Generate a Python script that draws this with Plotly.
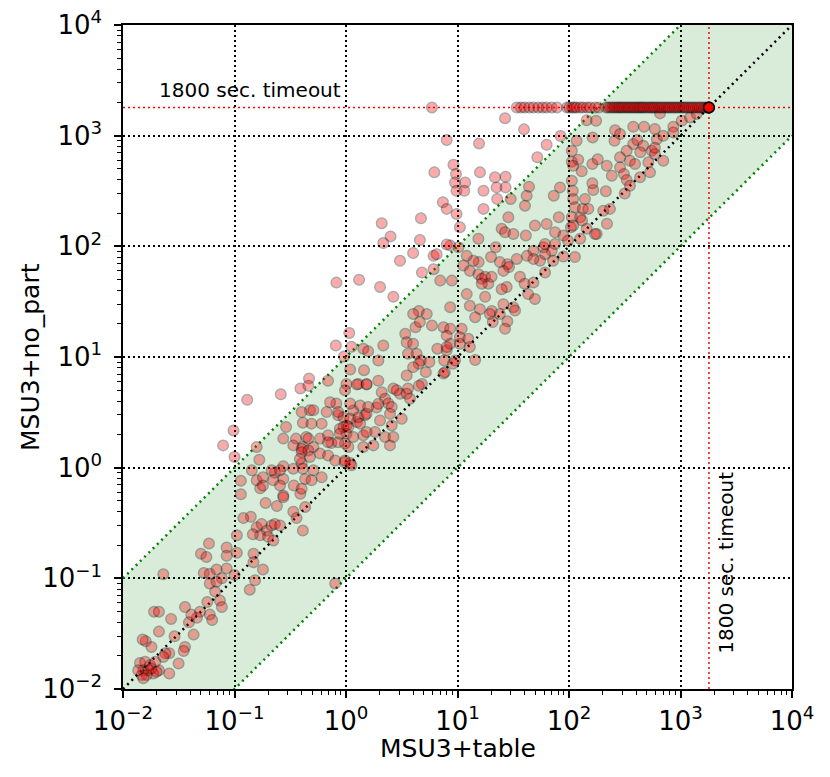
import math
import plotly.graph_objects as go

# Runtimes in seconds: (MSU3+table, MSU3+no_part)
pts_fast = [
    (0.10, 1.25), (0.167, 1.18), (0.143, 0.946), (0.158, 0.77), (0.18, 0.82), (0.17, 0.65),
    (0.114, 0.76), (0.114, 0.575), (0.23, 0.90), (0.274, 1.03), (0.337, 0.98), (0.40, 1.09),
    (0.274, 0.79), (0.34, 0.69), (0.274, 0.56), (0.19, 0.48), (0.24, 0.45), (0.43, 0.79),
    (0.49, 0.77), (0.39, 0.58), (0.43, 0.44), (0.337, 0.40), (0.36, 0.35), (0.41, 0.27),
    (0.158, 0.29), (0.175, 0.31), (0.195, 0.27), (0.215, 0.30), (0.23, 0.31), (0.17, 0.245),
    (0.20, 0.237), (0.223, 0.22), (0.146, 0.25), (0.14, 0.36), (0.12, 0.35), (0.105, 0.245),
    (0.105, 0.17), (0.085, 0.19), (0.085, 0.16), (0.148, 0.167), (0.148, 0.14), (0.18, 0.12),
    (0.137, 0.079), (0.153, 0.096), (0.10, 0.107), (0.085, 0.123), (0.077, 0.10), (0.059, 0.206),
    (0.05, 0.167), (0.056, 0.156), (0.053, 0.112), (0.06, 0.11), (0.069, 0.12), (0.06, 0.09),
    (0.069, 0.093), (0.067, 0.076), (0.074, 0.063), (0.077, 0.055), (0.023, 0.109), (0.057, 0.061),
    (0.049, 0.05), (0.046, 0.044), (0.041, 0.047), (0.036, 0.055), (0.039, 0.04), (0.06, 0.047),
    (0.063, 0.042), (0.043, 0.031), (0.029, 0.03), (0.036, 0.024), (0.035, 0.022), (0.0315, 0.017),
    (0.026, 0.021), (0.024, 0.021), (0.019, 0.05), (0.021, 0.05), (0.021, 0.033), (0.027, 0.043),
    (0.016, 0.027), (0.015, 0.028), (0.018, 0.024), (0.026, 0.0138), (0.021, 0.0148),
    (0.0142, 0.0172), (0.0158, 0.0176), (0.0175, 0.0164), (0.0152, 0.0148), (0.0169, 0.0148),
    (0.0187, 0.0138), (0.0147, 0.0134), (0.0163, 0.0134), (0.0137, 0.0148), (0.018, 0.0153),
    (0.020, 0.0143), (0.0152, 0.0125), (0.023, 0.0195), (0.0195, 0.0176),
    (1.09, 1.1), (0.97, 1.12), (0.8, 0.09),
    (0.215, 0.946), (0.256, 0.946), (0.41, 0.98), (0.51, 0.946), (0.18, 0.69), (0.223, 0.77),
    (0.256, 0.69), (0.40, 0.646), (0.605, 0.82), (0.274, 0.54), (0.256, 0.30),
]

pts_mid = [
    (0.079, 1.59), (0.098, 2.17), (0.13, 4.1), (0.26, 4.6), (0.39, 5.2), (0.466, 6.4),
    (0.46, 5.5), (0.69, 6.1), (0.82, 47), (1.31, 50), (2.02, 43), (2.66, 35), (2.09, 162),
    (2.51, 123), (2.16, 107), (1.07, 16.5), (0.81, 12.7), (1.12, 12.4), (0.96, 10.1),
    (1.43, 11.9), (1.58, 11.3), (2.16, 12.7), (1.09, 7.7), (1.45, 7.6), (1.95, 6.1),
    (1.01, 5.7), (1.29, 5.7), (1.53, 5.7), (0.98, 5.0), (0.475, 3.3), (0.51, 3.3),
    (0.41, 2.55), (0.29, 2.33), (0.274, 1.83), (0.356, 1.83), (0.44, 1.89), (0.585, 1.83),
    (0.69, 1.96), (0.74, 1.67), (0.51, 1.54), (0.41, 1.54), (0.67, 3.18), (0.82, 3.8),
    (0.85, 2.97), (0.95, 2.86), (0.88, 2.25), (1.01, 2.41), (1.16, 3.29), (1.34, 3.65),
    (1.48, 2.97), (1.25, 2.58), (1.01, 2.03), (1.16, 1.89), (1.43, 1.96), (1.43, 1.54),
    (1.05, 1.54), (1.76, 1.59), (2.09, 4.8), (2.24, 4.2), (2.4, 3.8), (1.88, 3.5),
    (2.66, 5.2), (2.57, 3.53), (2.48, 3.07), (2.02, 2.67), (2.57, 2.41), (1.82, 2.1),
    (2.24, 1.89), (1.53, 2.1), (2.66, 1.89), (2.48, 1.59), (0.158, 1.54), (0.98, 1.65),
    (1.95, 9.3), (3.6, 10.7), (4.3, 10.7), (4.7, 9.3), (5.6, 9.0), (4.5, 8.7), (5.2, 7.3),
    (4.0, 8.1), (3.5, 6.8), (8.0, 11.5), (7.6, 9.3), (9.1, 8.7), (14.4, 9.4), (7.5, 7.1),
    (4.8, 5.7), (4.5, 5.5), (3.6, 5.2), (3.05, 4.65), (3.5, 4.65), (3.75, 4.2), (3.16, 2.77),
    (1.25, 5.65), (1.53, 5.65), (2.85, 5.0), (0.72, 3.9), (1.09, 3.8), (1.58, 3.53),
    (1.95, 3.78), (0.85, 3.18), (0.40, 3.18), (0.49, 2.5), (0.605, 2.5), (0.337, 1.59),
    (0.40, 1.48), (0.46, 1.83), (0.69, 1.7), (0.85, 1.7), (0.40, 1.38), (0.46, 1.43),
    (0.386, 1.2), (0.475, 1.25), (0.585, 1.34), (0.69, 1.29), (0.8, 1.16), (1.09, 2.77),
    (1.29, 2.86), (1.34, 2.5), (1.53, 3.07), (0.95, 2.33), (1.05, 2.33), (0.88, 2.03),
    (0.98, 1.16), (1.12, 1.05),
]

pts_slow = [
    (26.7, 1440), (39.5, 1140), (8.0, 912), (15.6, 851), (63, 828), (84, 991), (52, 637),
    (106, 731), (117, 900), (144, 1380), (175, 1364), (163, 964), (106, 582), (121, 607),
    (109, 535), (130, 476), (162, 554), (181, 611), (218, 535), (259, 1122), (287, 1033),
    (256, 900), (377, 1203), (471, 1203), (589, 1148), (377, 840), (410, 913), (329, 731),
    (464, 811), (552, 731), (613, 930), (287, 637), (352, 594), (287, 517), (391, 554),
    (515, 574), (589, 682), (214, 314), (165, 323), (162, 371), (242, 435), (311, 450),
    (329, 398), (352, 353), (434, 420), (533, 466), (106, 392), (108, 318), (109, 268),
    (113, 225), (106, 183), (126, 183), (133, 218), (149, 218), (139, 268), (203, 210),
    (233, 218), (177, 129), (144, 144), (126, 117), (89, 125), (75, 134), (104, 149),
    (98, 113), (81, 183), (113, 80), (89, 81), (70, 91), (59, 98), (55, 74), (61, 85),
    (48, 91), (42, 82), (34, 77), (28, 69), (29, 65), (24, 72), (20, 80), (15.5, 72),
    (13.9, 74), (12.1, 82), (11.3, 67), (12.9, 60), (15.4, 56), (16.5, 51), (17.7, 53),
    (18.9, 46), (16.5, 46), (10.2, 98), (8.6, 102), (8.0, 104), (22, 98), (15.4, 117),
    (10.5, 149), (9.8, 196), (9.2, 547), (9.7, 450), (9.5, 378), (11.7, 378), (9.8, 318),
    (11.5, 318), (6.2, 466), (7.4, 250), (8.0, 218), (4.7, 179), (15.9, 466), (17.1, 318),
    (21.7, 420), (27, 426), (22.4, 341), (22.7, 268), (27, 341), (17.1, 218), (43.8, 346),
    (41.7, 287), (40.3, 233), (30, 268), (28.6, 183), (24.9, 144), (26.7, 134), (31.7, 129),
    (41, 125), (49.5, 154), (63, 159), (73, 287), (83, 341), (6.1, 82), (6.5, 85), (4.8, 58),
    (6.1, 62), (7.0, 49), (8.9, 49), (4.6, 114), (4.0, 87), (3.05, 74), (12.1, 37),
    (17.7, 35), (20.3, 26), (25.8, 30), (24, 24.5), (31.7, 28.2), (32.8, 26.3), (28, 21),
    (26.7, 18), (20.7, 20.7), (36.3, 53), (40, 46), (49.5, 33.5), (43, 37), (61, 58),
    (72, 74), (7.5, 18.6), (10.9, 18), (10.5, 15.1), (12.5, 14.6), (12.9, 12.3), (8.6, 13.2),
    (4.5, 26), (4.0, 24.5), (5.3, 24.5), (4.2, 18.6), (4.6, 20.7), (5.9, 19.3), (3.4, 16.2),
    (3.5, 13.6), (4.0, 13.2), (6.6, 11.9), (8.0, 12.3),
    (655, 1590), (863, 1203), (863, 1070), (1025, 1364), (1217, 1462), (1397, 1567),
    (701, 1000), (701, 594), (436, 708), (589, 776), (316, 300), (131, 171), (219, 160),
    (171, 129), (109, 154), (61, 105), (75, 105), (48, 77), (25.8, 60), (20.2, 53),
    (27.6, 43), (24.9, 41), (48, 47), (12.9, 29), (15.9, 27), (14.4, 22.9), (19.5, 24.5),
    (8.6, 28.2), (8.6, 18), (8.0, 15.6), (10.5, 13.2), (9.5, 9.3), (7.7, 7.3),
]

# instances where MSU3+no_part hit the timeout (x = MSU3+table time)
TIMEOUT = 1800
timeout_x = [
    5.9, 34, 37, 40, 44, 48, 53, 58, 63, 70, 78, 96, 101, 107, 112, 117, 126, 134, 145,
    155, 171, 185, 215, 225, 235, 245, 255, 265, 275, 285, 295, 305, 318, 330, 342, 355,
    368, 382, 396, 410, 425, 440, 455, 470, 490, 510, 530, 550, 570, 590, 615, 640, 665,
    690, 720, 750, 780, 810, 845, 880, 915, 950, 990, 1030, 1070, 1110, 1160, 1210, 1260,
    1310, 1370, 1430, 1490, 1550, 1620, 1690, 1750,
    1800, 1800, 1800, 1800, 1800, 1800, 1800, 1800,
]

AX_MIN, AX_MAX = 0.01, 10000
DECADES = [0.01, 0.1, 1, 10, 100, 1000, 10000]
DECADE_LABELS = ["10<sup>\u22122</sup>", "10<sup>\u22121</sup>", "10<sup>0</sup>",
                 "10<sup>1</sup>", "10<sup>2</sup>", "10<sup>3</sup>", "10<sup>4</sup>"]
X_LABEL = "MSU3+table"
Y_LABEL = "MSU3+no_part"
TIMEOUT_TEXT = "1800 sec. timeout"

pts = pts_fast + pts_mid + pts_slow
x_vals = [p[0] for p in pts] + timeout_x
y_vals = [p[1] for p in pts] + [TIMEOUT] * len(timeout_x)

fig = go.Figure()

# green band between y = x/10 and y = 10x
fig.add_trace(go.Scatter(
    x=[AX_MIN, AX_MAX, AX_MAX, AX_MIN], y=[AX_MIN / 10, AX_MAX / 10, AX_MAX * 10, AX_MIN * 10],
    fill="toself", fillcolor="rgba(0,128,0,0.15)", mode="none", hoverinfo="skip", showlegend=False))
for k in (10, 0.1):
    fig.add_trace(go.Scatter(
        x=[AX_MIN, AX_MAX], y=[AX_MIN * k, AX_MAX * k], mode="lines",
        line=dict(color="green", width=2.5, dash="2px,4px"), hoverinfo="skip", showlegend=False))
fig.add_trace(go.Scatter(
    x=[AX_MIN, AX_MAX], y=[AX_MIN, AX_MAX], mode="lines",
    line=dict(color="black", width=2.5, dash="2px,4px"), hoverinfo="skip", showlegend=False))
# timeout lines
fig.add_trace(go.Scatter(
    x=[AX_MIN, AX_MAX], y=[TIMEOUT, TIMEOUT], mode="lines",
    line=dict(color="red", width=1.5, dash="2px,3px"), hoverinfo="skip", showlegend=False))
fig.add_trace(go.Scatter(
    x=[TIMEOUT, TIMEOUT], y=[AX_MIN, AX_MAX], mode="lines",
    line=dict(color="red", width=1.5, dash="2px,3px"), hoverinfo="skip", showlegend=False))

fig.add_trace(go.Scatter(
    x=x_vals, y=y_vals, mode="markers",
    marker=dict(size=10.5, color="red", opacity=0.33, line=dict(color="black", width=1.5)),
    showlegend=False))

axis_common = dict(
    type="log", range=[math.log10(AX_MIN), math.log10(AX_MAX)],
    tickmode="array", tickvals=DECADES, ticktext=DECADE_LABELS,
    showline=True, linecolor="black", linewidth=1.5, mirror=True,
    ticks="outside", ticklen=7, tickwidth=1.5, tickcolor="black",
    showgrid=True, gridcolor="black", gridwidth=1.5, griddash="2px,3px", zeroline=False,
    automargin=False,
    tickfont=dict(family="DejaVu Sans", size=26, color="black"),
    minor=dict(ticks="outside", ticklen=4, tickwidth=1, tickcolor="black", dtick="D1", showgrid=False),
)

# plot area: 669 x 664 px
fig.update_layout(
    width=830, height=777,
    margin=dict(l=123, r=38, t=25, b=88),
    plot_bgcolor="white", paper_bgcolor="white",
    font=dict(family="DejaVu Sans", color="black"),
    xaxis=dict(axis_common, ticklabelstandoff=1),
    yaxis=dict(axis_common, ticklabelstandoff=7),
    annotations=[
        dict(text=X_LABEL, x=0.5, y=-0.09, xref="paper", yref="paper",
             xanchor="center", yanchor="middle", showarrow=False, font=dict(size=25)),
        dict(text=Y_LABEL, x=-0.139, y=0.5, xref="paper", yref="paper", textangle=-90,
             xanchor="center", yanchor="middle", showarrow=False, font=dict(size=25)),
        dict(text=TIMEOUT_TEXT, x=math.log10(0.02), y=math.log10(TIMEOUT),
             xref="x", yref="y", xanchor="left", yanchor="bottom", yshift=3,
             showarrow=False, font=dict(size=20, color="black")),
        dict(text=TIMEOUT_TEXT, x=math.log10(TIMEOUT), y=math.log10(0.02),
             xref="x", yref="y", xanchor="left", yanchor="bottom", xshift=3, textangle=-90,
             showarrow=False, font=dict(size=20, color="black")),
    ],
)

fig.write_html("out.html", config={"displayModeBar": False},
               post_script="document.body.style.margin='0';")
